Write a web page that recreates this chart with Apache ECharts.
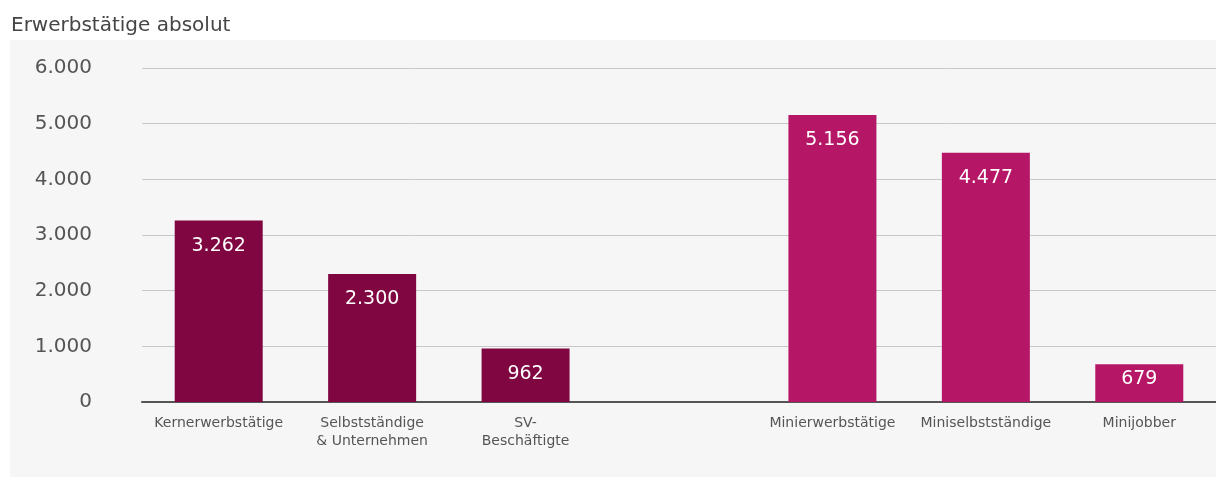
<!DOCTYPE html>
<html>
<head>
<meta charset="utf-8">
<script src="https://cdn.jsdelivr.net/npm/echarts@6/dist/echarts.min.js"></script>
<style>
  html, body { margin: 0; padding: 0; background: #fff; }
  #chart { width: 1216px; height: 477px; }
</style>
</head>
<body>
<div id="chart"></div>
<script>
var categories = ['Kernerwerbstätige', 'Selbstständige\n& Unternehmen', 'SV-\nBeschäftigte', '',
                  'Minierwerbstätige', 'Miniselbstständige', 'Minijobber'];
var kernValues = [3262, 2300, 962, null, null, null, null];
var miniValues = [null, null, null, null, 5156, 4477, 679];

function fmt(v) {
    return String(v).replace(/\B(?=(\d{3})+(?!\d))/g, '.');
}

// short bars get their label nudged up closer to the top edge
function toData(arr) {
    return arr.map(function (v) {
        if (v != null && v < 800) {
            return { value: v, label: { distance: 5 } };
        }
        return v;
    });
}

var FONT = '"DejaVu Sans", Verdana, sans-serif';

var chart = echarts.init(document.getElementById('chart'));

var labelStyle = {
    show: true,
    position: 'insideTop',
    distance: 16,
    color: '#fff',
    fontSize: 19,
    fontFamily: FONT,
    formatter: function (p) { return fmt(p.value); }
};

var option = {
    backgroundColor: '#fff',
    textStyle: { fontFamily: FONT },
    title: {
        text: 'Erwerbstätige absolut',
        left: 6,
        top: 11,
        textStyle: { fontSize: 20, fontWeight: 'normal', color: '#454545', fontFamily: FONT }
    },
    graphic: [{
        type: 'rect',
        z: -10,
        shape: { x: 10, y: 40, width: 1206, height: 437 },
        style: { fill: '#f6f6f6' }
    }],
    grid: { left: 142, right: 0, top: 68, bottom: 75 },
    xAxis: {
        type: 'category',
        data: categories,
        axisLine: { lineStyle: { color: '#555', width: 2 } },
        axisTick: { show: false },
        axisLabel: { color: '#555', fontSize: 14, margin: 12, lineHeight: 18, interval: 0 }
    },
    yAxis: {
        type: 'value',
        min: 0,
        max: 6000,
        interval: 1000,
        axisLine: { show: false },
        axisTick: { show: false },
        splitLine: { lineStyle: { color: '#c8c8c8', width: 1 } },
        axisLabel: { color: '#555', fontSize: 20, margin: 50, formatter: fmt }
    },
    series: [{
        name: 'Kern',
        type: 'bar',
        stack: 'all',
        barWidth: 88,
        data: toData(kernValues),
        itemStyle: { color: '#800641' },
        label: labelStyle
    }, {
        name: 'Mini',
        type: 'bar',
        stack: 'all',
        barWidth: 88,
        data: toData(miniValues),
        itemStyle: { color: '#b51665' },
        label: labelStyle
    }]
};

chart.setOption(option);
</script>
</body>
</html>
